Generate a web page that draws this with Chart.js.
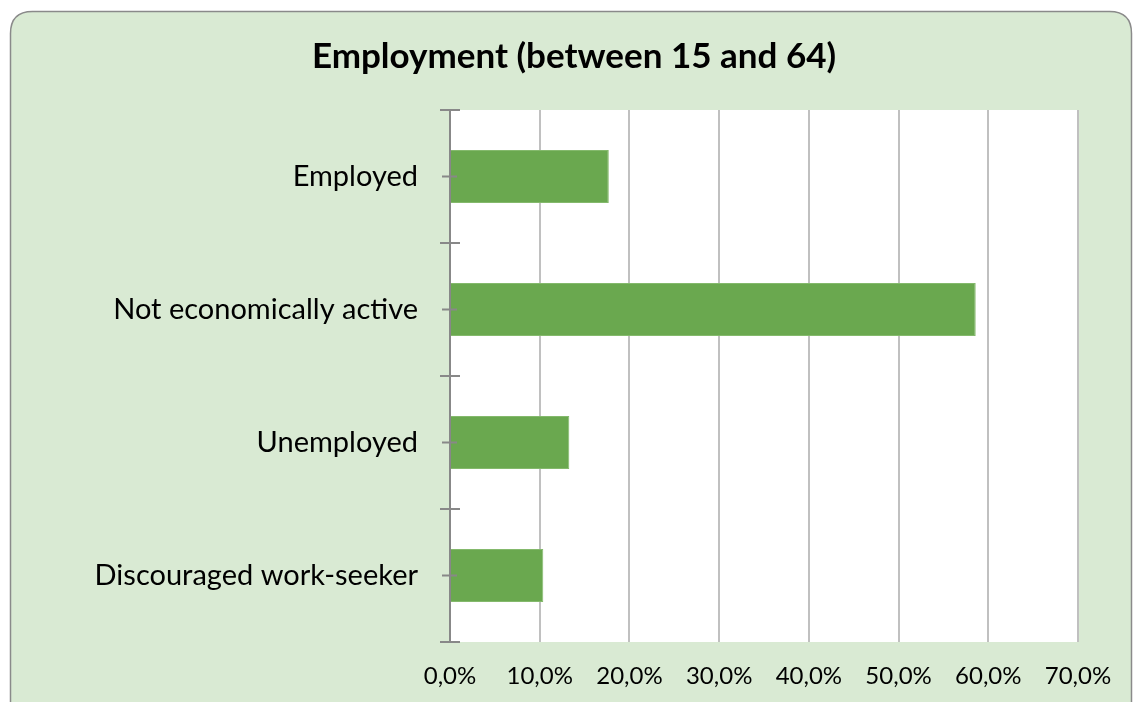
<!DOCTYPE html>
<html>
<head>
<meta charset="utf-8">
<script src="https://cdn.jsdelivr.net/npm/chart.js@4.4.1/dist/chart.umd.min.js"></script>
<style>
  html, body { margin: 0; padding: 0; background: #ffffff; }
  #wrap { position: relative; width: 1133px; height: 702px; }
</style>
</head>
<body>
<div id="wrap"><canvas id="c" width="1133" height="702"></canvas></div>
<script>
const chartTitle = 'Employment (between 15 and 64)';
const categories = ['Employed', 'Not economically active', 'Unemployed', 'Discouraged work-seeker'];
const shares = [17.7, 58.6, 13.3, 10.4];
const xTicks = [0, 10, 20, 30, 40, 50, 60, 70];

const FONT = 'Lato, "Open Sans", sans-serif';

const frame = {
  id: 'frame',
  beforeDraw(chart) {
    const ctx = chart.ctx;
    ctx.save();
    ctx.fillStyle = '#ffffff';
    ctx.fillRect(0, 0, chart.width, chart.height);
    const x = 10.5, y = 11.5, w = 1121, h = 740, r = 22;
    ctx.beginPath();
    ctx.moveTo(x + r, y);
    ctx.lineTo(x + w - r, y);
    ctx.quadraticCurveTo(x + w, y, x + w, y + r);
    ctx.lineTo(x + w, y + h - r);
    ctx.quadraticCurveTo(x + w, y + h, x + w - r, y + h);
    ctx.lineTo(x + r, y + h);
    ctx.quadraticCurveTo(x, y + h, x, y + h - r);
    ctx.lineTo(x, y + r);
    ctx.quadraticCurveTo(x, y, x + r, y);
    ctx.closePath();
    ctx.fillStyle = '#d9ead3';
    ctx.fill();
    ctx.lineWidth = 1.5;
    ctx.strokeStyle = '#8a8a8a';
    ctx.stroke();
    const a = chart.chartArea;
    ctx.fillStyle = '#ffffff';
    ctx.fillRect(a.left, a.top, a.right - a.left, a.bottom - a.top);
    ctx.restore();
  },
  afterDatasetsDraw(chart) {
    const ctx = chart.ctx;
    const ys = chart.scales.y;
    const a = chart.chartArea;
    const n = categories.length;
    const half = (ys.bottom - ys.top) / n / 2;
    ctx.save();
    ctx.strokeStyle = '#888888';
    ctx.lineWidth = 2;
    ctx.beginPath();
    ctx.moveTo(a.left, a.top);
    ctx.lineTo(a.left, a.bottom);
    for (let i = 0; i < n; i++) {
      const c = ys.getPixelForValue(i);
      ctx.moveTo(a.left - 10, c - half); ctx.lineTo(a.left + 10, c - half);
      ctx.moveTo(a.left - 8, c); ctx.lineTo(a.left + 7, c);
      if (i === n - 1) { ctx.moveTo(a.left - 10, c + half); ctx.lineTo(a.left + 10, c + half); }
    }
    ctx.stroke();
    ctx.restore();
  }
};

new Chart(document.getElementById('c'), {
  type: 'bar',
  data: {
    labels: categories,
    datasets: [{
      data: shares,
      backgroundColor: '#6aa84f',
      borderColor: '#84b96c',
      borderWidth: 1,
      borderSkipped: 'start',
      barPercentage: 0.8,
      categoryPercentage: 0.5
    }]
  },
  options: {
    indexAxis: 'y',
    responsive: false,
    animation: false,
    devicePixelRatio: 1,
    layout: { padding: { left: 70, right: 55, top: 0, bottom: 0 } },
    plugins: {
      legend: { display: false },
      tooltip: { enabled: false },
      title: {
        display: true,
        text: chartTitle,
        color: '#000000',
        font: { family: FONT, size: 35, weight: 'bold', lineHeight: 1.2 },
        padding: { top: 36, bottom: 32 }
      }
    },
    scales: {
      x: {
        min: 0,
        max: 70,
        afterBuildTicks(s) { s.ticks = xTicks.map(v => ({ value: v })); },
        afterFit(s) { s.height = 60; },
        grid: { color: '#c0c0c0', lineWidth: 2, drawTicks: false },
        border: { display: false },
        ticks: {
          padding: 20,
          color: '#000000',
          font: { family: FONT, size: 24 },
          callback: v => v.toFixed(1).replace('.', ',') + '%'
        }
      },
      y: {
        afterFit(s) { s.width = 380; },
        grid: { display: false, drawTicks: false },
        border: { display: false },
        ticks: {
          padding: 32,
          color: '#000000',
          font: { family: FONT, size: 29 }
        }
      }
    }
  },
  plugins: [frame]
});
</script>
</body>
</html>
